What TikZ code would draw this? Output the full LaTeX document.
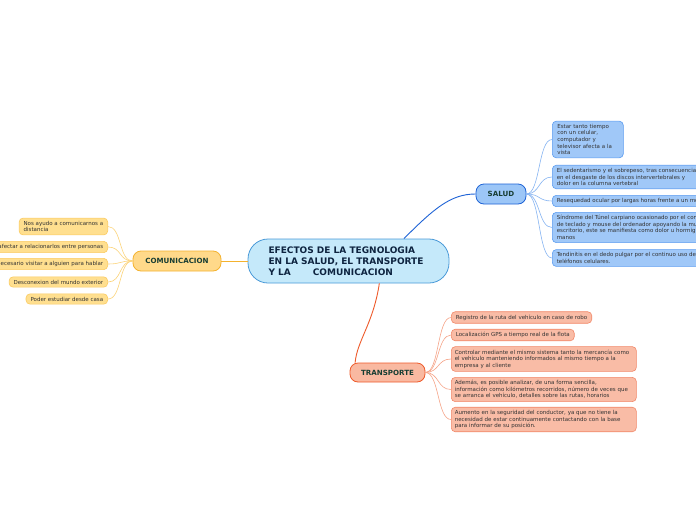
\documentclass[tikz,border=0pt]{standalone}
\usepackage{fontspec}
\setmainfont{DejaVu Sans}
\definecolor{mainfill}{HTML}{C5E9FA}
\definecolor{maindraw}{HTML}{4A9AD8}
\definecolor{maintext}{HTML}{0E2440}
\definecolor{brtext}{HTML}{173D33}
\definecolor{chtext}{HTML}{333333}
\definecolor{salfill}{HTML}{9CC6F7}
\definecolor{saldraw}{HTML}{1E63D6}
\definecolor{salcfill}{HTML}{A0C8F8}
\definecolor{salcdraw}{HTML}{5B9CF0}
\definecolor{salline}{HTML}{86B4F2}
\definecolor{comfill}{HTML}{FFD98A}
\definecolor{comdraw}{HTML}{F4B22E}
\definecolor{comcfill}{HTML}{FFDF8F}
\definecolor{comcdraw}{HTML}{FBCB60}
\definecolor{comline}{HTML}{FCD47A}
\definecolor{trafill}{HTML}{F9B9A1}
\definecolor{tradraw}{HTML}{EE5A2A}
\definecolor{tracfill}{HTML}{F9BCA6}
\definecolor{tracdraw}{HTML}{F2896A}
\definecolor{traline}{HTML}{F6A488}
\tikzset{
  mainbox/.style={draw=maindraw, fill=mainfill, line width=0.8pt, rounded corners=20pt,
    minimum width=201pt, minimum height=44pt, align=left, text=maintext,
    font=\fontsize{9}{11}\selectfont\bfseries},
  branch/.style={rounded corners=8pt, line width=0.8pt, minimum height=20pt, text=brtext,
    font=\fontsize{7.1}{8}\selectfont\bfseries},
  child/.style={rounded corners=4pt, line width=0.6pt, align=left, text=chtext,
    inner xsep=4.5pt, inner ysep=3pt, font=\fontsize{5.5}{6.6}\selectfont},
  salc/.style={child, draw=salcdraw, fill=salcfill, anchor=west},
  comc/.style={child, draw=comcdraw, fill=comcfill, anchor=east},
  trac/.style={child, draw=tracdraw, fill=tracfill, anchor=west},
  tracw/.style={trac, text width=178pt, inner xsep=3.5pt},
  conn/.style={line width=0.6pt},
}
\begin{document}
\begin{tikzpicture}[x=1pt, y=-1pt]
\useasboundingbox (0,0) rectangle (696,520);
\clip (0,0) rectangle (696,520);
\fill[white] (0,0) rectangle (696,520);

% central
\node[mainbox] (main) at (348.5,261) {\hspace*{-5pt}EFECTOS DE LA TEGNOLOGIA\\\hspace*{-5pt}EN LA SALUD, EL TRANSPORTE\\\hspace*{-5pt}Y LA\hspace{22pt}COMUNICACION};

% branches
\node[branch, draw=saldraw, fill=salfill, minimum width=50pt] (salud) at (501,194) {SALUD};
\node[branch, draw=comdraw, fill=comfill, minimum width=88pt] (comu) at (177,261) {COMUNICACION};
\node[branch, draw=tradraw, fill=trafill, minimum width=75pt, minimum height=19pt] (trans) at (387.5,372.5) {TRANSPORTE};

% salud children
\node[salc, inner xsep=5pt, text width=61pt] (s1) at (552,139.5) {Estar tanto tiempo\\con un celular,\\computador y\\televisor afecta a la\\vista};
\node[salc] (s2) at (552,177) {El sedentarismo y el sobrepeso, tras consecuencias\\en el desgaste de los discos intervertebrales y\\dolor en la columna vertebral};
\node[salc] (s3) at (552,201) {Resequedad ocular por largas horas frente a un monitor};
\node[salc] (s4) at (552,227.5) {Síndrome del Túnel carpiano ocasionado por el continuo uso\\de teclado y mouse del ordenador apoyando la muñeca en el\\escritorio, este se manifiesta como dolor u hormigueo en las\\manos};
\node[salc] (s5) at (552,258) {Tendinitis en el dedo pulgar por el continuo uso de\\teléfonos celulares.};

% comunicacion children
\node[comc] (c1) at (108,226.5) {Nos ayudo a comunicarnos a\\distancia};
\node[comc] (c2) at (108,247) {Nos ayudo a afectar a relacionarlos entre personas};
\node[comc] (c3) at (108,264) {Ya no es necesario visitar a alguien para hablar};
\node[comc] (c4) at (108,282) {Desconexion del mundo exterior};
\node[comc] (c5) at (108,299) {Poder estudiar desde casa};

% transporte children
\node[trac] (t1) at (451,317.5) {Registro de la ruta del vehículo en caso de robo};
\node[trac] (t2) at (451,335) {Localización GPS a tiempo real de la flota};
\node[tracw] (t3) at (451,359) {Controlar mediante el mismo sistema tanto la mercancía como\\el vehículo manteniendo informados al mismo tiempo a la\\empresa y al cliente};
\node[tracw] (t4) at (451,389.5) {Además, es posible analizar, de una forma sencilla,\\información como kilómetros recorridos, número de veces que\\se arranca el vehículo, detalles sobre las rutas, horarios};
\node[tracw] (t5) at (451,419.5) {Aumento en la seguridad del conductor, ya que no tiene la\\necesidad de estar continuamente contactando con la base\\para informar de su posición.};

% main connectors
\draw[saldraw, line width=0.9pt] (main.22) .. controls +(30,-30) and +(-25,0) .. (salud.west);
\draw[comdraw, line width=0.9pt] (main.west) -- (comu.east);
\draw[tradraw, line width=0.9pt] (main.-36) .. controls +(-6,40) and +(2,-22) .. (trans.163);

% child connectors
\foreach \n in {s1,s2,s3,s4,s5}
  \draw[conn, salline] (salud.east) .. controls +(14,0) and +(-14,0) .. (\n.west);
\foreach \n in {c1,c2,c3,c4,c5}
  \draw[conn, comline] (comu.west) .. controls +(-14,0) and +(14,0) .. (\n.east);
\foreach \n in {t1,t2,t3,t4,t5}
  \draw[conn, traline] (trans.east) .. controls +(14,0) and +(-14,0) .. (\n.west);
\end{tikzpicture}
\end{document}
